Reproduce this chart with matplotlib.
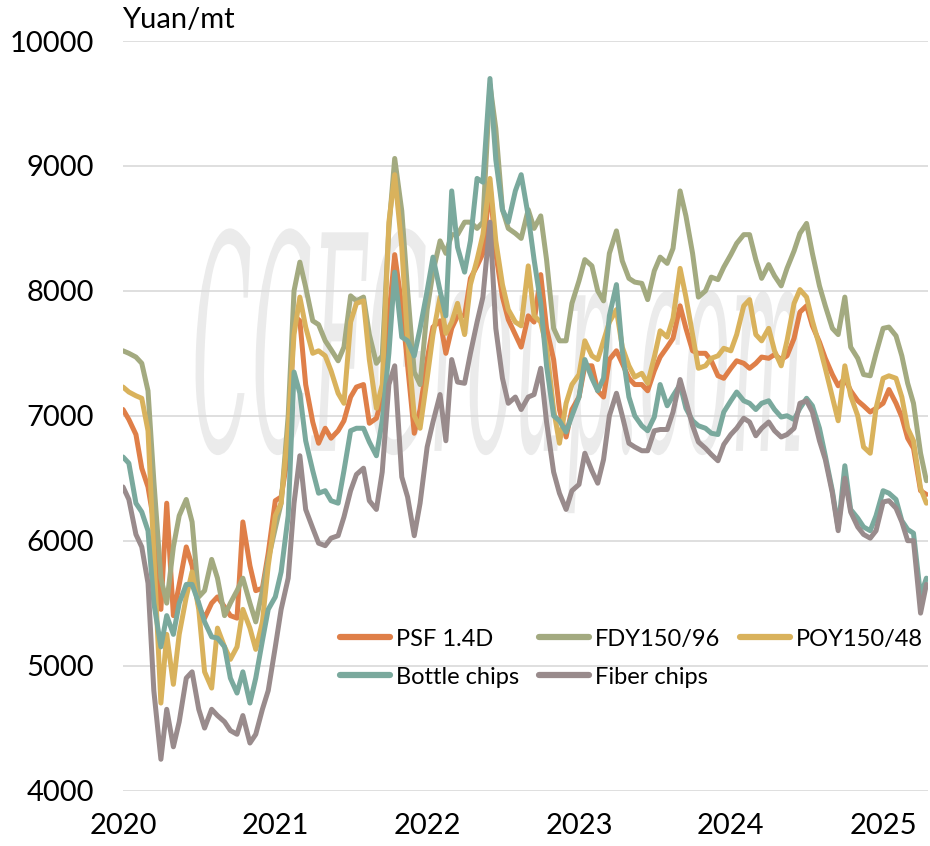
import numpy as np
import pandas as pd
import matplotlib
matplotlib.use("Agg")
import matplotlib.pyplot as plt
import matplotlib.dates as mdates
from matplotlib.textpath import TextPath
from matplotlib.patches import PathPatch
from matplotlib.font_manager import FontProperties
from matplotlib.transforms import Affine2D

# semi-monthly observations, Jan 2020 - Apr 2025 (Yuan/mt)
dates = pd.date_range("2020-01-01", periods=128, freq="SMS")

psf = [7050, 6970, 6850, 6580, 6430, 6150, 5450, 6300, 5400, 5650, 5950, 5800, 5470, 5380, 5500, 5550,
       5470, 5400, 5380, 6150, 5800, 5600, 5620, 5900, 6320,
       6350, 6700, 7800, 7760, 7250, 6950, 6780, 6900, 6820, 6880, 6960, 7150, 7230, 7250, 6940, 6980,
       7150, 7800, 8290, 7880, 7400, 6860, 7050, 7450,
       7710, 7760, 7500, 7700, 7800, 7800, 8100, 8200, 8300, 8850, 8300, 7950, 7770, 7650, 7550, 7800,
       7750, 8130, 7700, 7450, 7050, 6830, 7050, 7150,
       7400, 7400, 7200, 7150, 7450, 7520, 7420, 7300, 7250, 7250, 7200, 7360, 7470, 7550, 7620, 7880,
       7700, 7520, 7500, 7500, 7440, 7320, 7300, 7380,
       7440, 7420, 7380, 7420, 7470, 7460, 7490, 7450, 7480, 7620, 7830, 7880, 7720, 7590, 7460, 7330,
       7240, 7300, 7200, 7120, 7080, 7030, 7060, 7100, 7210, 7100, 6990, 6820, 6740, 6400, 6370]

fdy = [7520, 7500, 7470, 7420, 7200, 6480, 5700, 5500, 5950, 6200, 6330, 6150, 5550, 5600, 5850, 5700,
       5400, 5500, 5600, 5700, 5500, 5350, 5600, 5850, 6100,
       6300, 7000, 8000, 8230, 8030, 7760, 7730, 7600, 7530, 7440, 7550, 7960, 7920, 7950, 7650, 7420,
       7480, 8500, 9060, 8640, 8000, 7350, 7250, 7850,
       8150, 8400, 8300, 8450, 8450, 8550, 8550, 8500, 8550, 9650, 9300, 8650, 8500, 8460, 8420, 8650,
       8500, 8600, 8250, 7700, 7600, 7600, 7900, 8080,
       8250, 8200, 8000, 7920, 8300, 8480, 8240, 8100, 8070, 8060, 7930, 8160, 8270, 8220, 8340, 8800,
       8600, 8300, 7950, 8000, 8110, 8090, 8190, 8290,
       8380, 8450, 8450, 8250, 8100, 8210, 8120, 8040, 8180, 8320, 8460, 8540, 8300, 8040, 7880, 7700,
       7650, 7950, 7550, 7460, 7330, 7320, 7500, 7700, 7710, 7640, 7480, 7260, 7100, 6700, 6480]

poy = [7230, 7190, 7160, 7140, 6880, 5900, 4700, 5250, 4850, 5250, 5550, 5750, 5450, 4950, 4820, 5300,
       5150, 5050, 5150, 5450, 5300, 5130, 5350, 5800, 6200,
       6300, 6900, 7650, 7950, 7710, 7500, 7520, 7480, 7360, 7180, 7100, 7750, 7900, 7920, 7450, 7060,
       7250, 8550, 8930, 8350, 7600, 7000, 6900, 7300,
       7650, 7950, 7660, 7750, 7900, 7650, 8050, 8250, 8450, 8900, 8400, 8050, 7850, 7750, 7720, 8200,
       7800, 7750, 7550, 7050, 6780, 7100, 7250, 7330,
       7600, 7480, 7450, 7600, 7750, 7850, 7550, 7400, 7310, 7340, 7260, 7470, 7680, 7630, 7780, 8180,
       7950, 7650, 7380, 7400, 7460, 7480, 7540, 7520,
       7650, 7880, 7930, 7650, 7600, 7700, 7520, 7400, 7600, 7900, 8010, 7950, 7760, 7560, 7380, 7150,
       6960, 7400, 7160, 7000, 6750, 6700, 7060, 7300, 7320, 7300, 7150, 6900, 6800, 6420, 6300]

bottle = [6670, 6620, 6300, 6230, 6080, 5500, 5150, 5400, 5250, 5500, 5650, 5650, 5500, 5350, 5230, 5220,
          5150, 4900, 4780, 4950, 4700, 4900, 5200, 5450, 5550,
          5750, 6200, 7350, 7180, 6800, 6560, 6380, 6400, 6320, 6300, 6560, 6880, 6900, 6900, 6790, 6680,
          6960, 7500, 8150, 7630, 7600, 7480, 7700, 8000,
          8270, 8000, 7800, 8800, 8350, 8150, 8400, 8900, 8870, 9700, 9050, 8650, 8550, 8800, 8930, 8600,
          8250, 7900, 7400, 7000, 6960, 6870, 7000, 7150,
          7450, 7300, 7200, 7300, 7800, 8050, 7520, 7150, 7000, 6920, 6880, 6990, 7250, 7080, 7160, 7250,
          7060, 6960, 6920, 6900, 6860, 6850, 7030, 7120,
          7190, 7120, 7100, 7050, 7100, 7120, 7050, 6990, 7000, 6970, 7060, 7140, 7080, 6900, 6680, 6400,
          6100, 6600, 6250, 6180, 6110, 6080, 6200, 6400, 6380, 6330, 6160, 6090, 6060, 5560, 5700]

fiber = [6430, 6330, 6050, 5950, 5660, 4800, 4250, 4650, 4350, 4550, 4900, 4950, 4650, 4500, 4650, 4600,
         4550, 4480, 4450, 4600, 4380, 4450, 4650, 4800, 5150,
         5450, 5700, 6300, 6680, 6250, 6100, 5980, 5960, 6020, 6040, 6190, 6400, 6530, 6580, 6320, 6250,
         6550, 7250, 7400, 6510, 6350, 6040, 6300, 6750,
         6950, 7170, 6800, 7450, 7270, 7260, 7500, 7750, 7950, 8550, 7700, 7300, 7100, 7150, 7050, 7150,
         7170, 7380, 6950, 6550, 6380, 6250, 6400, 6450,
         6700, 6560, 6460, 6650, 7000, 7180, 7000, 6780, 6750, 6720, 6720, 6880, 6890, 6890, 7030, 7290,
         7120, 6920, 6790, 6740, 6690, 6640, 6770, 6850,
         6900, 6980, 6950, 6840, 6900, 6950, 6880, 6830, 6850, 6900, 7100, 7120, 7030, 6800, 6650, 6380,
         6080, 6500, 6230, 6110, 6050, 6020, 6080, 6310, 6320, 6260, 6150, 6000, 6000, 5420, 5650]

series = [("PSF 1.4D", psf, "#DF7F48"),
          ("FDY150/96", fdy, "#A3AA80"),
          ("POY150/48", poy, "#D9B25C"),
          ("Bottle chips", bottle, "#7AA99D"),
          ("Fiber chips", fiber, "#998B8C")]

font = "Lato"
fig = plt.figure(figsize=(9.3, 8.46), dpi=100)
ax = fig.add_axes([0.1323, 0.0656, 0.8656, 0.8859])

# faint watermark behind the lines
tp = TextPath((0, 0), "CCFGroup.com", size=1,
              prop=FontProperties(family="DejaVu Serif", style="italic"))
bb = tp.get_extents()
x0, x1, y0, y1 = 0.09, 0.84, 0.37, 0.75
tr = (Affine2D().translate(-bb.x0, -bb.y0)
      .scale((x1 - x0) / bb.width, (y1 - y0) / bb.height)
      .translate(x0, y0) + ax.transAxes)
ax.add_patch(PathPatch(tp, transform=tr, fc="#EBEBEB", ec="none", zorder=0.5))

handles = {}
for name, vals, col in series:
    ln, = ax.plot(dates, vals, color=col, lw=3.6, label=name,
                  solid_joinstyle="round", solid_capstyle="round", zorder=2)
    handles[name] = ln

ax.set_ylim(4000, 10000)
ax.set_yticks(range(4000, 10001, 1000))
ax.set_xlim(pd.Timestamp("2020-01-01"), pd.Timestamp("2025-04-19"))
ax.xaxis.set_major_locator(mdates.YearLocator())
ax.xaxis.set_major_formatter(mdates.DateFormatter("%Y"))

ax.grid(axis="y", color="#D9D9D9", lw=1.2)
ax.set_axisbelow(True)
for s in ax.spines.values():
    s.set_visible(False)
ax.tick_params(axis="both", length=0, labelsize=21, colors="black")
ax.tick_params(axis="y", pad=21)
ax.tick_params(axis="x", pad=16)
for lab in ax.get_xticklabels() + ax.get_yticklabels():
    lab.set_fontfamily(font)

fig.text(0.131, 0.967, "Yuan/mt", fontsize=21, family=font, va="baseline", ha="left")

# row-wise legend order with ncol=3
order = ["PSF 1.4D", "Bottle chips", "FDY150/96", "Fiber chips", "POY150/48"]
leg = ax.legend([handles[n] for n in order], order, ncol=3, frameon=False,
                loc="upper left", bbox_to_anchor=(0.27, 0.216),
                borderaxespad=0, borderpad=0,
                prop={"family": font, "size": 17}, handlelength=2.1,
                handletextpad=0.25, columnspacing=0.85, labelspacing=0.72)
for l in leg.get_lines():
    l.set_linewidth(4.5)

fig.savefig("out.png", dpi=100)
